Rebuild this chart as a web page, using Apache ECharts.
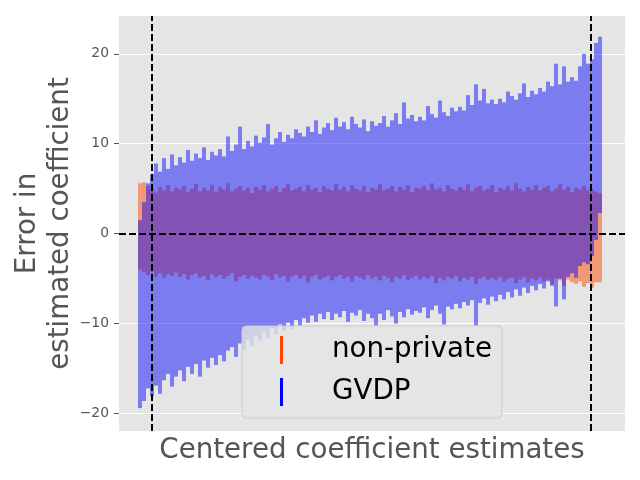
<!DOCTYPE html>
<html>
<head>
<meta charset="utf-8">
<script src="https://cdn.jsdelivr.net/npm/echarts@6/dist/echarts.min.js"></script>
<style>
  html, body { margin: 0; padding: 0; background: #fff; }
  #chart { width: 640px; height: 480px; }
</style>
</head>
<body>
<div id="chart"></div>
<script>
// GVDP interval ends, one per sorted coefficient (left to right)
var gvdpLow = [
    -19.4, -18.6, -17.2, -18.1, -16.9, -17.8, -16.3, -15.6, -17.0, -15.9,
    -15.2, -16.4, -14.8, -15.6, -14.5, -15.9, -14.1, -14.9, -13.8, -14.6,
    -13.5, -14.2, -13.0, -12.6, -13.7, -12.2, -12.9, -11.8, -12.5, -11.4,
    -11.9, -11.0, -11.6, -10.5, -11.2, -10.1, -10.8, -9.9, -10.6, -9.6,
    -10.2, -9.4, -9.9, -9.1, -9.8, -8.9, -9.5, -8.7, -9.6, -8.9,
    -9.3, -8.6, -9.8, -8.8, -9.1, -8.5, -9.7, -8.9, -9.4, -10.2,
    -8.9, -9.6, -8.5, -9.2, -10.0, -8.7, -9.3, -8.4, -9.0, -8.6,
    -8.8, -8.2, -9.4, -8.5, -8.0, -8.9, -10.1, -8.1, -8.4, -7.8,
    -8.3, -7.6, -8.0, -7.4, -10.2, -7.7, -7.2, -7.9, -7.0, -7.5,
    -6.8, -7.3, -6.5, -7.1, -6.2, -6.9, -6.0, -6.6, -5.8, -6.3,
    -5.6, -6.1, -5.3, -5.8, -8.1, -5.0, -7.3, -4.8, -4.4, -4.9,
    -3.6, -3.2, -3.4, -2.5, -0.7, 2.3
];
var gvdpHigh = [
    1.5, 3.5, 5.6, 6.6, 7.8, 6.9, 8.4, 7.2, 8.8, 7.6,
    8.5, 7.9, 9.3, 8.1, 8.9, 8.4, 9.6, 8.2, 9.1, 8.7,
    9.4, 8.6, 10.8, 9.2, 9.9, 11.9, 9.4, 10.3, 9.7, 10.9,
    10.1, 10.7, 12.2, 9.9, 10.6, 11.3, 10.2, 11.0, 10.6, 11.6,
    11.2, 10.8, 11.9, 11.3, 12.6, 11.1, 11.8, 12.3, 11.5, 12.9,
    11.9, 12.4, 11.6, 13.0, 12.2, 11.8, 12.7, 11.4, 12.5, 12.0,
    12.3, 13.1, 11.9, 12.6, 13.4, 12.2, 14.6, 12.8, 13.2, 12.5,
    13.0, 12.6, 14.2, 13.3, 12.9, 14.8, 13.5, 13.1, 14.0, 13.6,
    14.1, 13.7, 15.4, 14.3, 16.6, 14.8, 16.1, 14.5, 14.9, 14.4,
    15.0, 14.6, 15.8, 15.3, 14.9, 15.6, 16.7, 15.2, 15.9, 15.5,
    16.2, 15.8, 16.9, 16.4, 18.9, 16.6, 18.6, 16.9, 17.4, 17.0,
    18.6, 20.0, 18.9, 19.4, 21.2, 21.9
];
// non-private interval ends
var npLow = [
    -4.0, -4.3, -4.6, -4.2, -4.8, -4.4, -4.9, -4.5, -4.7, -4.3,
    -4.8, -4.5, -5.1, -4.6, -4.4, -4.9, -4.7, -5.2, -4.5, -4.8,
    -4.6, -5.0, -4.7, -4.4, -5.3, -4.8, -4.6, -5.0, -4.7, -4.9,
    -5.1, -4.6, -4.8, -5.2, -4.5, -4.9, -4.7, -5.3, -4.8, -4.6,
    -5.0, -4.7, -5.4, -4.8, -4.6, -5.1, -4.9, -4.7, -5.2, -4.8,
    -4.6, -5.0, -4.8, -5.3, -4.7, -4.9, -5.1, -4.6, -5.0, -4.8,
    -5.2, -4.7, -4.9, -5.4, -4.8, -5.0, -4.6, -5.2, -4.9, -4.7,
    -5.1, -4.8, -5.0, -4.7, -5.5, -4.9, -5.2, -4.8, -5.0, -4.7,
    -5.3, -4.9, -5.1, -4.8, -5.6, -5.0, -4.8, -5.2, -4.9, -5.1,
    -4.8, -5.3, -5.0, -4.9, -5.5, -5.1, -4.8, -5.4, -5.0, -5.2,
    -4.9, -5.3, -5.1, -5.6, -5.0, -5.2, -5.8, -5.1, -5.4, -5.6,
    -5.3, -5.9, -5.5, -6.0, -5.4, -5.4
];
var npHigh = [
    5.6, 5.7, 5.3, 5.0, 4.6, 5.2, 4.8, 5.4, 4.7, 5.1,
    4.9, 5.3, 4.6, 5.0, 5.5, 4.7, 5.1, 4.8, 5.4, 4.6,
    5.2, 4.9, 5.6, 4.7, 5.0, 5.3, 4.8, 5.1, 4.5, 5.2,
    4.9, 5.4, 4.7, 5.0, 5.3, 4.6, 5.1, 5.5, 4.8, 5.0,
    5.2, 4.7, 5.4, 4.9, 5.1, 4.6, 5.3, 5.0, 4.8, 5.5,
    4.9, 5.2, 4.7, 5.4, 5.0, 4.8, 5.3, 4.6, 5.1, 4.9,
    5.5, 4.8, 5.0, 5.3, 4.7, 5.2, 4.9, 5.4, 4.6, 5.1,
    5.0, 5.3, 4.8, 5.6, 4.9, 5.1, 4.7, 5.4, 5.0, 4.8,
    5.2, 4.9, 5.5, 4.7, 5.1, 5.3, 4.8, 5.0, 5.4, 4.6,
    5.1, 4.9, 5.3, 4.8, 5.6, 5.0, 4.7, 5.2, 4.9, 5.4,
    4.8, 5.1, 5.3, 4.7, 5.0, 5.5, 4.9, 5.2, 4.6, 5.1,
    4.9, 5.3, 4.8, 5.0, 4.7, 4.5
];
var yTicks = [-20, -10, 0, 10, 20];
var cutoffs = [3, 112.75];   // vertical dashed lines (index units)

var n = gvdpLow.length;
var npData = [], gvdpData = [];
for (var i = 0; i < n; i++) {
    npData.push([i, npLow[i], npHigh[i]]);
    gvdpData.push([i, gvdpLow[i], gvdpHigh[i]]);
}

function barRenderer(fill) {
    return function (params, api) {
        var lo = api.coord([api.value(0), api.value(1)]);
        var hi = api.coord([api.value(0), api.value(2)]);
        var w = api.size([1, 0])[0];
        return {
            type: 'rect',
            shape: { x: lo[0] - w / 2, y: hi[1], width: w, height: lo[1] - hi[1] },
            style: { fill: fill }
        };
    };
}

var font = 'DejaVu Sans';
var myChart = echarts.init(document.getElementById('chart'));
var option = {
    animation: false,
    textStyle: { fontFamily: font },
    grid: {
        left: 119, right: 15, top: 16, bottom: 49,
        containLabel: false, outerBoundsMode: 'none',
        show: true, backgroundColor: '#E5E5E5', borderWidth: 0
    },
    legend: {
        orient: 'vertical',
        left: 242, top: 326,
        padding: [10, 10, 12, 38],
        itemGap: 14,
        itemWidth: 3, itemHeight: 28,
        backgroundColor: 'rgba(229,229,229,0.8)',
        borderColor: '#CCCCCC', borderWidth: 1, borderRadius: 4,
        textStyle: { fontSize: 27.7, color: '#000', fontFamily: font, padding: [0, 0, 0, 44] },
        data: [
            { name: 'non-private', icon: 'rect', itemStyle: { color: 'rgb(255,69,0)', opacity: 1 } },
            { name: 'GVDP', icon: 'rect', itemStyle: { color: 'rgb(0,0,255)', opacity: 1 } }
        ]
    },
    xAxis: {
        type: 'value',
        min: -5.25, max: 121.25,
        axisLine: { show: false, onZero: false },
        axisTick: { show: false },
        axisLabel: { show: false },
        splitLine: { show: false },
        name: 'Centered coefficient estimates',
        nameLocation: 'middle',
        nameGap: 6,
        nameTextStyle: { fontSize: 27.7, color: '#555555', fontFamily: font }
    },
    yAxis: {
        type: 'value',
        min: -21.94, max: 24.2,
        axisLine: { show: false, onZero: false },
        axisTick: {
            show: true, inside: false, length: 5,
            lineStyle: { color: '#555555', width: 1 }, customValues: yTicks
        },
        axisLabel: {
            color: '#555555', fontSize: 13.9, margin: 10, customValues: yTicks,
            formatter: function (v) { return String(v).replace('-', '\u2212'); }
        },
        splitLine: { show: true, lineStyle: { color: '#FFFFFF', width: 1.2 } },
        name: 'Error in\nestimated coefficient',
        nameLocation: 'middle',
        nameRotate: 90,
        nameGap: 42,
        nameMoveOverlap: false,
        nameTextStyle: { fontSize: 27.7, color: '#555555', fontFamily: font, lineHeight: 33 }
    },
    series: [
        {
            name: 'non-private',
            type: 'custom',
            renderItem: barRenderer('rgba(255,69,0,0.48)'),
            itemStyle: { color: 'rgb(255,69,0)' },
            encode: { x: 0, y: [1, 2] },
            data: npData,
            z: 2
        },
        {
            name: 'GVDP',
            type: 'custom',
            renderItem: barRenderer('rgba(0,0,255,0.46)'),
            itemStyle: { color: 'rgb(0,0,255)' },
            encode: { x: 0, y: [1, 2] },
            data: gvdpData,
            z: 3
        },
        {
            type: 'line',
            data: [],
            silent: true,
            z: 5,
            markLine: {
                silent: true,
                symbol: 'none',
                label: { show: false },
                lineStyle: { color: '#000', type: [7, 3], width: 2 },
                data: [{ yAxis: 0 }].concat(cutoffs.map(function (c) { return { xAxis: c }; }))
            }
        }
    ]
};
option && myChart.setOption(option);
</script>
</body>
</html>
